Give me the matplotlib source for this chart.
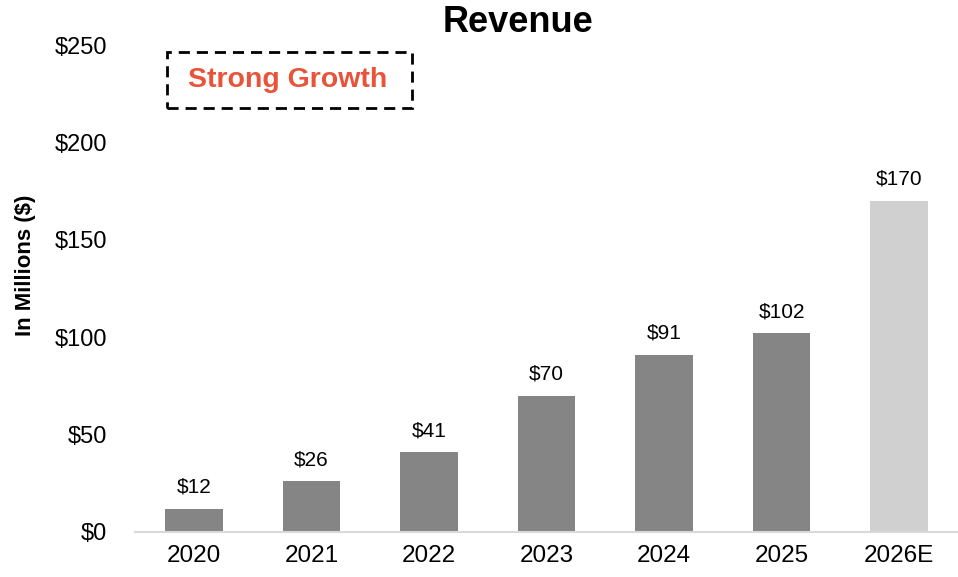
import matplotlib
matplotlib.use("Agg")
import matplotlib.pyplot as plt
from matplotlib.patches import Rectangle

categories = ["2020", "2021", "2022", "2023", "2024", "2025", "2026E"]
revenue = [12, 26, 41, 70, 91, 102, 170]
value_labels = ["$12", "$26", "$41", "$70", "$91", "$102", "$170"]
y_ticks = [0, 50, 100, 150, 200, 250]
y_tick_labels = ["$0", "$50", "$100", "$150", "$200", "$250"]

plt.rcParams['font.family'] = ['Liberation Sans', 'DejaVu Sans']

W, H = 958, 577
fig = plt.figure(figsize=(W/100, H/100), dpi=100)
ax = fig.add_axes([135/W, (H-532)/H, (958-135)/W, (532-45)/H])

colors = ["#858585"] * 6 + ["#D0D0D0"]
x = range(len(categories))
bars = ax.bar(x, revenue, width=0.49, color=colors, zorder=2)
for xi, v, lab in zip(x, revenue, value_labels):
    ax.annotate(lab, (xi, v), xytext=(0, 11.5), textcoords="offset points",
                ha="center", va="baseline", fontsize=15, color="#000000")

ax.set_xlim(-0.5, len(categories) - 0.5)
ax.set_ylim(0, 250)
ax.set_yticks(y_ticks)
ax.set_yticklabels(y_tick_labels, fontsize=17)
ax.set_xticks(list(x))
ax.set_xticklabels(categories, fontsize=17.5)
ax.tick_params(axis="both", length=0)
ax.tick_params(axis="y", pad=20)
ax.tick_params(axis="x", pad=9)
for s in ["top", "right", "left"]:
    ax.spines[s].set_visible(False)
ax.spines["bottom"].set_color("#D9D9D9")
ax.spines["bottom"].set_linewidth(1.5)

fig.text(518/W, 1 - 22/H, "Revenue", ha="center", va="center",
         fontsize=26, fontweight="bold")
fig.text(25/W, 1 - 265/H, "In Millions ($)", ha="center", va="center",
         rotation=90, fontsize=16, fontweight="bold")

rect = Rectangle((167/W, 1 - 108/H), (412-167)/W, (108-52)/H,
                 transform=fig.transFigure, fill=False, edgecolor="black",
                 linewidth=2, linestyle=(0, (4, 2.5)))
fig.add_artist(rect)
fig.text(288/W, 1 - 80/H, "Strong Growth", ha="center", va="center",
         fontsize=20.5, fontweight="bold", color="#E8533A")

fig.savefig("out.png", dpi=100)
